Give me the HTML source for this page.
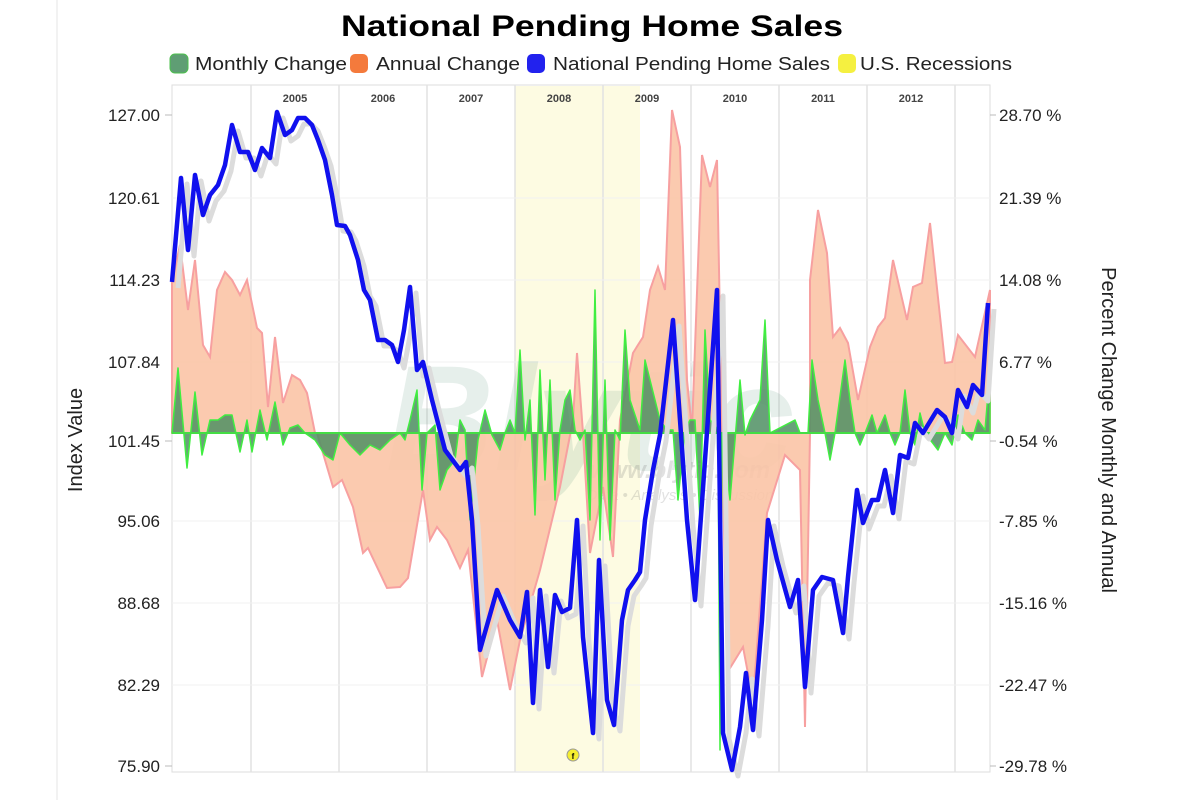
<!DOCTYPE html>
<html><head><meta charset="utf-8"><style>
body{margin:0;background:#fff;}
svg{display:block;font-family:"Liberation Sans",sans-serif;}
</style></head><body>
<svg width="1200" height="800" viewBox="0 0 1200 800">
<rect width="1200" height="800" fill="#fff"/>
<line x1="57" y1="0" x2="57" y2="800" stroke="#e4e4e4"/>
<text x="341" y="36" textLength="502" lengthAdjust="spacingAndGlyphs" font-size="30" font-weight="bold" fill="#000">National Pending Home Sales</text>
<g font-size="18" fill="#222">
<rect x="170" y="54" width="18" height="19" rx="5" fill="#5f9e74" stroke="#4ec04e"/>
<text x="195" y="70" textLength="152" lengthAdjust="spacingAndGlyphs">Monthly Change</text>
<rect x="350" y="54" width="18" height="19" rx="5" fill="#f47a3c"/>
<text x="376" y="70" textLength="144" lengthAdjust="spacingAndGlyphs">Annual Change</text>
<rect x="527" y="54" width="18" height="19" rx="5" fill="#2222ee"/>
<text x="553" y="70" textLength="277" lengthAdjust="spacingAndGlyphs">National Pending Home Sales</text>
<rect x="838" y="54" width="18" height="19" rx="5" fill="#f5f040"/>
<text x="860" y="70" textLength="152" lengthAdjust="spacingAndGlyphs">U.S. Recessions</text>
</g>
<rect x="172" y="85" width="818" height="687" fill="#fff" stroke="#ddd"/>
<rect x="515" y="86" width="125" height="685" fill="#fdfbe2"/>
<g stroke="#e2e2e2" stroke-width="1.5">
<line x1="251" y1="85" x2="251" y2="772"/><line x1="339" y1="85" x2="339" y2="772"/>
<line x1="427" y1="85" x2="427" y2="772"/><line x1="515" y1="85" x2="515" y2="772"/>
<line x1="603" y1="85" x2="603" y2="772"/><line x1="691" y1="85" x2="691" y2="772"/>
<line x1="779" y1="85" x2="779" y2="772"/><line x1="867" y1="85" x2="867" y2="772"/>
<line x1="955" y1="85" x2="955" y2="772"/>
</g>
<g stroke="#f1f1f1"><line x1="172" y1="198" x2="990" y2="198"/><line x1="172" y1="280" x2="990" y2="280"/><line x1="172" y1="362" x2="990" y2="362"/><line x1="172" y1="521" x2="990" y2="521"/><line x1="172" y1="603" x2="990" y2="603"/><line x1="172" y1="685" x2="990" y2="685"/></g>
<g font-size="11" font-weight="bold" fill="#444" text-anchor="middle">
<text x="295" y="102">2005</text><text x="383" y="102">2006</text><text x="471" y="102">2007</text><text x="559" y="102">2008</text><text x="647" y="102">2009</text><text x="735" y="102">2010</text><text x="823" y="102">2011</text><text x="911" y="102">2012</text>
</g>
<text x="590" y="470" text-anchor="middle" font-size="150" font-weight="bold" font-style="italic" fill="rgba(90,150,120,0.15)">Blytic</text>
<text x="680" y="478" text-anchor="middle" font-size="24" font-weight="bold" font-style="italic" fill="rgba(120,120,120,0.22)">www.blytic.com</text>
<text x="680" y="500" text-anchor="middle" font-size="15" font-style="italic" fill="rgba(120,120,120,0.22)">Data • Analysis • Discussion</text>
<polygon fill="#fbc4a6" fill-opacity="0.9" stroke="#f7a0a0" stroke-width="2" points="172,433 172,282 180,245 188,310 195,260 203,345 210,357 217,290 225,272 232,280 240,295 247,280 257,328 262,333 268,407 275,337 283,403 292,375 300,380 307,393 315,433 317,433 333,487 342,480 353,507 363,553 368,548 387,588 400,587 408,578 423,490 430,540 437,527 447,540 460,568 468,550 482,677 497,620 510,690 520,640 540,570 560,487 573,420 577,353 583,433 590,553 603,487 613,557 620,420 633,353 643,337 650,290 658,267 665,290 672,110 680,147 687,380 692,430 702,155 710,187 717,160 722,433 727,673 743,647 753,700 767,513 785,455 800,470 805,727 810,433 810,280 818,210 827,253 833,337 840,328 848,343 858,400 870,347 878,327 885,318 893,260 907,320 913,287 922,283 930,223 945,363 952,362 958,335 975,357 990,290 990,433"/>
<polygon fill="#4f8f63" fill-opacity="0.85" stroke="#40ee40" stroke-width="1.5" stroke-linejoin="round" points="172,433 178,368 187,468 195,392 202,455 210,420 218,420 225,415 232,415 240,452 247,420 252,452 260,410 267,440 275,402 283,445 290,428 298,425 305,433 315,440 325,455 333,460 340,433 350,445 360,455 370,445 380,450 390,440 400,433 405,440 410,420 417,390 422,490 427,433 435,425 440,490 447,470 455,460 460,420 465,430 470,520 478,440 485,410 492,435 500,450 505,433 510,420 515,433 520,350 525,440 530,400 535,515 540,370 545,480 550,380 555,500 560,430 565,400 570,390 575,430 580,440 585,430 590,520 595,290 600,540 605,380 610,540 615,430 620,440 625,330 630,400 640,430 645,360 655,400 660,420 667,430 673,430 678,500 685,430 690,420 695,420 700,520 705,330 710,420 718,430 720,750 722,433 730,500 740,380 745,435 750,420 760,400 765,320 770,433 795,420 800,433 808,433 812,360 818,400 825,433 830,460 835,433 845,360 850,400 855,433 860,445 865,433 872,415 877,433 885,415 890,433 895,445 900,433 905,390 910,433 915,445 920,413 925,433 938,450 945,433 952,445 958,415 965,433 972,440 978,420 985,430 990,370 990,433"/>
<line x1="172" y1="433" x2="990" y2="433" stroke="#44dd44" stroke-width="2"/>
<polyline id="b" fill="none" stroke-width="5" stroke-linejoin="round" points="172,282 181,178 188,250 195,175 203,215 210,195 218,185 225,165 232,125 240,152 248,152 255,170 262,148 270,158 277,112 285,135 292,130 298,118 305,118 312,125 318,140 325,160 332,195 337,225 345,226 350,235 358,260 364,290 370,300 378,340 385,340 392,345 398,362 404,330 410,287 417,370 423,362 432,400 445,450 460,470 466,462 472,520 480,650 497,590 510,620 520,637 527,592 533,703 540,590 548,667 555,595 562,612 570,608 577,520 583,637 593,733 599,560 607,700 614,725 622,620 628,590 635,580 640,572 645,520 653,470 660,435 673,320 680,420 687,520 695,600 705,460 717,290 723,733 732,770 740,727 746,673 753,730 762,620 768,520 777,560 790,607 798,580 805,687 813,590 822,577 833,580 843,633 848,577 857,490 863,523 872,500 878,500 885,470 893,513 900,455 908,458 915,423 923,433 937,410 945,417 952,433 958,390 967,407 973,385 982,395 988,303" stroke="#dcdcdc" transform="translate(6,6)"/>
<polyline fill="none" stroke="#1010ee" stroke-width="4.5" stroke-linejoin="round" points="172,282 181,178 188,250 195,175 203,215 210,195 218,185 225,165 232,125 240,152 248,152 255,170 262,148 270,158 277,112 285,135 292,130 298,118 305,118 312,125 318,140 325,160 332,195 337,225 345,226 350,235 358,260 364,290 370,300 378,340 385,340 392,345 398,362 404,330 410,287 417,370 423,362 432,400 445,450 460,470 466,462 472,520 480,650 497,590 510,620 520,637 527,592 533,703 540,590 548,667 555,595 562,612 570,608 577,520 583,637 593,733 599,560 607,700 614,725 622,620 628,590 635,580 640,572 645,520 653,470 660,435 673,320 680,420 687,520 695,600 705,460 717,290 723,733 732,770 740,727 746,673 753,730 762,620 768,520 777,560 790,607 798,580 805,687 813,590 822,577 833,580 843,633 848,577 857,490 863,523 872,500 878,500 885,470 893,513 900,455 908,458 915,423 923,433 937,410 945,417 952,433 958,390 967,407 973,385 982,395 988,303"/>
<circle cx="573" cy="755" r="6" fill="#f5ee30" stroke="#999"/>
<text x="573" y="759" text-anchor="middle" font-size="8" font-weight="bold">f</text>
<g font-size="17" fill="#222" text-anchor="end">
<text x="160" y="121">127.00</text><text x="160" y="204">120.61</text><text x="160" y="286">114.23</text><text x="160" y="368">107.84</text><text x="160" y="447">101.45</text><text x="160" y="527">95.06</text><text x="160" y="609">88.68</text><text x="160" y="691">82.29</text><text x="160" y="772">75.90</text>
</g>
<g font-size="17" fill="#222">
<text x="999" y="121">28.70 %</text><text x="999" y="204">21.39 %</text><text x="999" y="286">14.08 %</text><text x="999" y="368">6.77 %</text><text x="999" y="447">-0.54 %</text><text x="999" y="527">-7.85 %</text><text x="999" y="609">-15.16 %</text><text x="999" y="691">-22.47 %</text><text x="999" y="772">-29.78 %</text>
</g>
<g stroke="#bbb"><line x1="165" y1="115" x2="172" y2="115"/><line x1="165" y1="441" x2="172" y2="441"/><line x1="165" y1="766" x2="172" y2="766"/><line x1="990" y1="115" x2="996" y2="115"/><line x1="990" y1="441" x2="996" y2="441"/><line x1="990" y1="766" x2="996" y2="766"/></g>
<text transform="translate(82,440) rotate(-90)" text-anchor="middle" font-size="20" fill="#222">Index Value</text>
<text transform="translate(1102,430) rotate(90)" text-anchor="middle" font-size="20" fill="#222">Percent Change Monthly and Annual</text>
</svg>
</body></html>
